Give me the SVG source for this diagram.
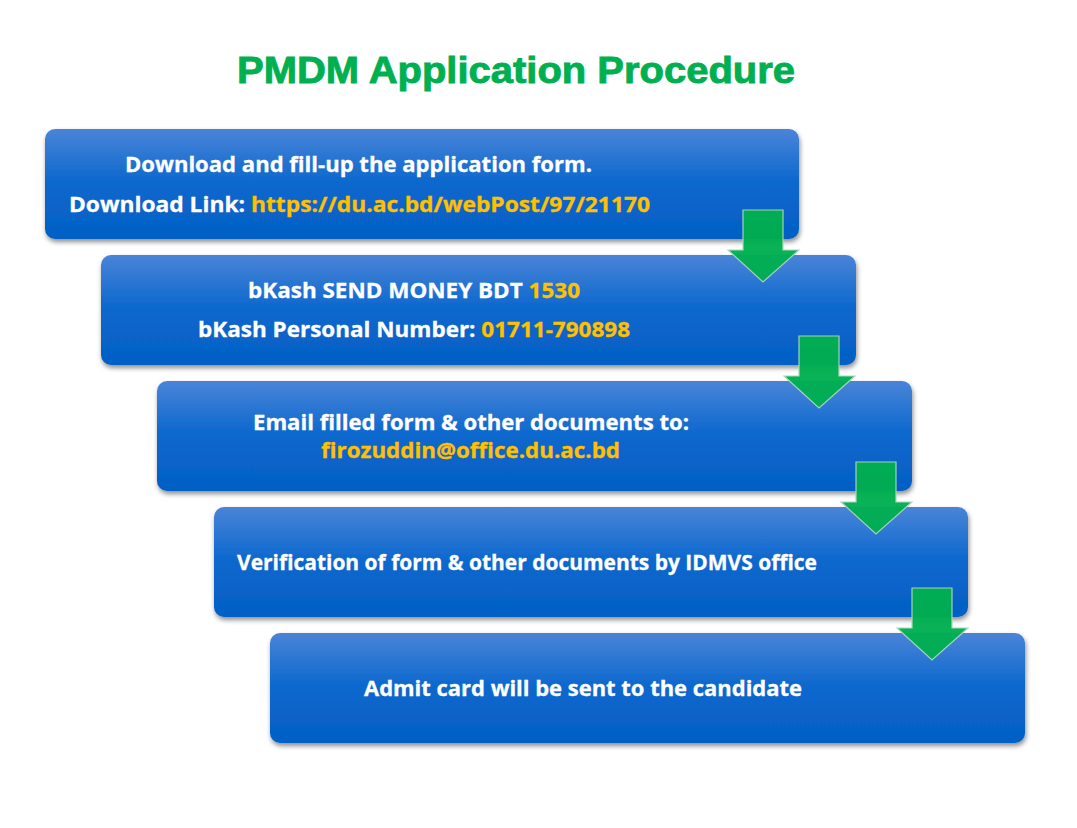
<svg xmlns="http://www.w3.org/2000/svg" width="1077" height="828" viewBox="0 0 1077 828">
<style>
.box{fill:url(#bg);filter:url(#sh)}
.t{font-family:"Open Sans","Noto Sans","DejaVu Sans",sans-serif;font-weight:700;font-size:22px;fill:#FFFFFF;stroke:#FFFFFF;stroke-width:0.3}
.y{fill:#FFC000;stroke:#FFC000}
.arr{fill:#00AF50;stroke:#A8D8B8;stroke-width:1.2;opacity:0.96}
.title{font-family:"Liberation Sans",Arial,sans-serif;font-weight:700;font-size:37px;fill:#00B050;stroke:#00B050;stroke-width:0.9}
</style>
<defs>
<linearGradient id="bg" x1="0" y1="0" x2="0" y2="1">
<stop offset="0" stop-color="#4A84D8"/>
<stop offset="0.5" stop-color="#0967CD"/>
<stop offset="1" stop-color="#0560C4"/>
</linearGradient>
<filter id="sh" x="-5%" y="-10%" width="110%" height="130%">
<feGaussianBlur in="SourceAlpha" stdDeviation="2.5"/>
<feOffset dx="1" dy="3" result="b"/>
<feComponentTransfer><feFuncA type="linear" slope="0.45"/></feComponentTransfer>
<feMerge><feMergeNode/><feMergeNode in="SourceGraphic"/></feMerge>
</filter>
</defs>
<rect width="1077" height="828" fill="#FFFFFF"/>
<text class="title" x="516" y="83" text-anchor="middle" textLength="558" lengthAdjust="spacingAndGlyphs">PMDM Application Procedure</text>

<g id="step1">
<rect class="box" x="45" y="129" width="754" height="110" rx="10"/>
<text class="t" x="125" y="171.5" textLength="467" lengthAdjust="spacingAndGlyphs">Download and fill-up the application form.</text>
<text class="t" x="69" y="211.5" textLength="581" lengthAdjust="spacingAndGlyphs">Download Link: <tspan class="y">https://du.ac.bd/webPost/97/21170</tspan></text>
</g>
<g id="step2">
<rect class="box" x="101" y="255" width="755" height="110" rx="10"/>
<text class="t" x="248" y="298" textLength="332" lengthAdjust="spacingAndGlyphs">bKash SEND MONEY BDT <tspan class="y">1530</tspan></text>
<text class="t" x="198" y="337" textLength="432" lengthAdjust="spacingAndGlyphs">bKash Personal Number: <tspan class="y">01711-790898</tspan></text>
</g>
<g id="step3">
<rect class="box" x="157" y="381" width="755" height="110" rx="10"/>
<text class="t" x="253" y="430" textLength="436" lengthAdjust="spacingAndGlyphs">Email filled form &amp; other documents to:</text>
<text class="t y" x="321" y="457.5" textLength="299" lengthAdjust="spacingAndGlyphs">firozuddin@office.du.ac.bd</text>
</g>
<g id="step4">
<rect class="box" x="214" y="507" width="754" height="110" rx="10"/>
<text class="t" x="237" y="570" textLength="580" lengthAdjust="spacingAndGlyphs">Verification of form &amp; other documents by IDMVS office</text>
</g>
<g id="step5">
<rect class="box" x="270" y="633" width="755" height="110" rx="10"/>
<text class="t" x="364" y="695.5" textLength="438" lengthAdjust="spacingAndGlyphs">Admit card will be sent to the candidate</text>
</g>

<g id="connectors">
<path class="arr" d="M743,210 H783 V250 H799 L763,282 L728,250 H743 Z"/>
<path class="arr" d="M799,336 H839 V376 H855 L819,408 L784,376 H799 Z"/>
<path class="arr" d="M856,462 H896 V502 H912 L876,534 L841,502 H856 Z"/>
<path class="arr" d="M912,588 H952 V628 H968 L932,660 L897,628 H912 Z"/>
</g>
</svg>
